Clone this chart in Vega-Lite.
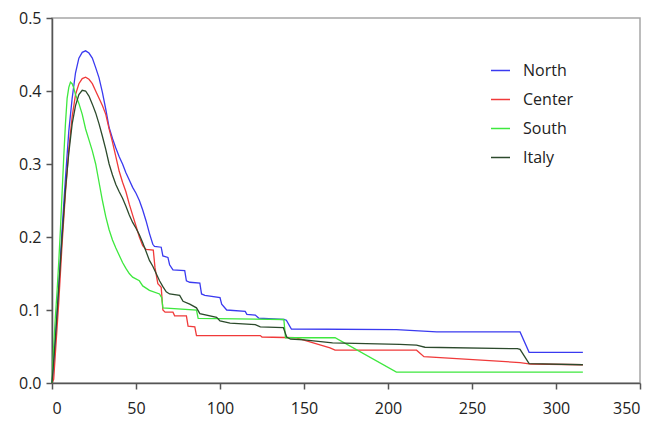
{
  "$schema": "https://vega.github.io/schema/vega-lite/v6.json",
  "width": 588,
  "height": 365,
  "autosize": "none",
  "padding": {"left": 52, "top": 18, "right": 29, "bottom": 38},
  "background": "white",
  "config": {
    "view": {"stroke": "#a6a6a6", "strokeWidth": 1.5},
    "font": "Open Sans",
    "axis": {
      "grid": false,
      "domainColor": "#555555",
      "domainWidth": 1.5,
      "tickColor": "#555555",
      "tickWidth": 1.5,
      "tickSize": 6,
      "labelFont": "Open Sans",
      "labelFontSize": 16,
      "labelColor": "#222222",
      "title": null
    },
    "legend": {
      "labelFont": "Open Sans",
      "labelFontSize": 16,
      "labelColor": "#222222"
    }
  },
  "data": {
    "values": [
      {"r":"North","d":0,"v":0},{"r":"North","d":1,"v":0.025},{"r":"North","d":2,"v":0.06},{"r":"North","d":4,"v":0.13},{"r":"North","d":6,"v":0.21},{"r":"North","d":8,"v":0.28},{"r":"North","d":10,"v":0.345},{"r":"North","d":12,"v":0.39},{"r":"North","d":14,"v":0.425},{"r":"North","d":16,"v":0.445},{"r":"North","d":18,"v":0.453},{"r":"North","d":20,"v":0.455},{"r":"North","d":22,"v":0.452},{"r":"North","d":24,"v":0.445},{"r":"North","d":26,"v":0.432},{"r":"North","d":28,"v":0.418},{"r":"North","d":30,"v":0.398},{"r":"North","d":32,"v":0.375},{"r":"North","d":34,"v":0.35},{"r":"North","d":36,"v":0.335},{"r":"North","d":38,"v":0.322},{"r":"North","d":40,"v":0.31},{"r":"North","d":42,"v":0.3},{"r":"North","d":44,"v":0.288},{"r":"North","d":46,"v":0.278},{"r":"North","d":48,"v":0.268},{"r":"North","d":50,"v":0.26},{"r":"North","d":52,"v":0.25},{"r":"North","d":54,"v":0.237},{"r":"North","d":56,"v":0.222},{"r":"North","d":58,"v":0.205},{"r":"North","d":60,"v":0.19},{"r":"North","d":61,"v":0.187},{"r":"North","d":65,"v":0.186},{"r":"North","d":66,"v":0.174},{"r":"North","d":69,"v":0.172},{"r":"North","d":70,"v":0.162},{"r":"North","d":72,"v":0.155},{"r":"North","d":79,"v":0.154},{"r":"North","d":80,"v":0.14},{"r":"North","d":82,"v":0.138},{"r":"North","d":88,"v":0.137},{"r":"North","d":89,"v":0.122},{"r":"North","d":91,"v":0.12},{"r":"North","d":100,"v":0.117},{"r":"North","d":101,"v":0.108},{"r":"North","d":104,"v":0.1},{"r":"North","d":115,"v":0.098},{"r":"North","d":116,"v":0.094},{"r":"North","d":121,"v":0.093},{"r":"North","d":123,"v":0.089},{"r":"North","d":138,"v":0.087},{"r":"North","d":139.5,"v":0.086},{"r":"North","d":142.5,"v":0.074},{"r":"North","d":205,"v":0.073},{"r":"North","d":229,"v":0.07},{"r":"North","d":278.6,"v":0.07},{"r":"North","d":284,"v":0.042},{"r":"North","d":316,"v":0.042},

      {"r":"Center","d":0,"v":0},{"r":"Center","d":1,"v":0.005},{"r":"Center","d":2,"v":0.04},{"r":"Center","d":4,"v":0.11},{"r":"Center","d":6,"v":0.19},{"r":"Center","d":8,"v":0.26},{"r":"Center","d":10,"v":0.32},{"r":"Center","d":12,"v":0.365},{"r":"Center","d":14,"v":0.395},{"r":"Center","d":16,"v":0.41},{"r":"Center","d":18,"v":0.417},{"r":"Center","d":20,"v":0.419},{"r":"Center","d":22,"v":0.416},{"r":"Center","d":24,"v":0.41},{"r":"Center","d":26,"v":0.4},{"r":"Center","d":28,"v":0.39},{"r":"Center","d":30,"v":0.38},{"r":"Center","d":32,"v":0.368},{"r":"Center","d":34,"v":0.348},{"r":"Center","d":36,"v":0.33},{"r":"Center","d":38,"v":0.31},{"r":"Center","d":40,"v":0.29},{"r":"Center","d":42,"v":0.275},{"r":"Center","d":44,"v":0.262},{"r":"Center","d":46,"v":0.245},{"r":"Center","d":48,"v":0.23},{"r":"Center","d":50,"v":0.215},{"r":"Center","d":52,"v":0.2},{"r":"Center","d":54,"v":0.188},{"r":"Center","d":56,"v":0.183},{"r":"Center","d":60.3,"v":0.182},{"r":"Center","d":61.3,"v":0.158},{"r":"Center","d":63,"v":0.136},{"r":"Center","d":65,"v":0.131},{"r":"Center","d":66,"v":0.1},{"r":"Center","d":67.3,"v":0.097},{"r":"Center","d":72,"v":0.097},{"r":"Center","d":73,"v":0.092},{"r":"Center","d":80,"v":0.092},{"r":"Center","d":81,"v":0.078},{"r":"Center","d":85,"v":0.077},{"r":"Center","d":86,"v":0.065},{"r":"Center","d":124,"v":0.065},{"r":"Center","d":125,"v":0.063},{"r":"Center","d":145,"v":0.062},{"r":"Center","d":165.5,"v":0.048},{"r":"Center","d":168.5,"v":0.045},{"r":"Center","d":217,"v":0.045},{"r":"Center","d":221.4,"v":0.036},{"r":"Center","d":278.6,"v":0.028},{"r":"Center","d":285,"v":0.026},{"r":"Center","d":316,"v":0.025},

      {"r":"South","d":0,"v":0},{"r":"South","d":1,"v":0.05},{"r":"South","d":2,"v":0.09},{"r":"South","d":3,"v":0.125},{"r":"South","d":4,"v":0.165},{"r":"South","d":5,"v":0.21},{"r":"South","d":6,"v":0.26},{"r":"South","d":7,"v":0.31},{"r":"South","d":8,"v":0.355},{"r":"South","d":9,"v":0.39},{"r":"South","d":10,"v":0.405},{"r":"South","d":11,"v":0.412},{"r":"South","d":12,"v":0.41},{"r":"South","d":13,"v":0.404},{"r":"South","d":14,"v":0.395},{"r":"South","d":16,"v":0.383},{"r":"South","d":18,"v":0.368},{"r":"South","d":20,"v":0.348},{"r":"South","d":22,"v":0.333},{"r":"South","d":24,"v":0.318},{"r":"South","d":26,"v":0.3},{"r":"South","d":28,"v":0.275},{"r":"South","d":30,"v":0.25},{"r":"South","d":32,"v":0.228},{"r":"South","d":34,"v":0.21},{"r":"South","d":36,"v":0.196},{"r":"South","d":38,"v":0.185},{"r":"South","d":40,"v":0.175},{"r":"South","d":42,"v":0.165},{"r":"South","d":44,"v":0.157},{"r":"South","d":46,"v":0.15},{"r":"South","d":48,"v":0.145},{"r":"South","d":52,"v":0.14},{"r":"South","d":54,"v":0.133},{"r":"South","d":58,"v":0.127},{"r":"South","d":64,"v":0.122},{"r":"South","d":65.3,"v":0.117},{"r":"South","d":66,"v":0.103},{"r":"South","d":86,"v":0.1},{"r":"South","d":87,"v":0.0885},{"r":"South","d":138,"v":0.087},{"r":"South","d":139,"v":0.062},{"r":"South","d":168.5,"v":0.062},{"r":"South","d":205,"v":0.015},{"r":"South","d":316,"v":0.015},

      {"r":"Italy","d":0,"v":0},{"r":"Italy","d":1,"v":0.03},{"r":"Italy","d":2,"v":0.06},{"r":"Italy","d":4,"v":0.13},{"r":"Italy","d":6,"v":0.2},{"r":"Italy","d":8,"v":0.265},{"r":"Italy","d":10,"v":0.315},{"r":"Italy","d":12,"v":0.355},{"r":"Italy","d":14,"v":0.38},{"r":"Italy","d":16,"v":0.395},{"r":"Italy","d":18,"v":0.401},{"r":"Italy","d":20,"v":0.4},{"r":"Italy","d":22,"v":0.393},{"r":"Italy","d":24,"v":0.382},{"r":"Italy","d":26,"v":0.37},{"r":"Italy","d":28,"v":0.355},{"r":"Italy","d":30,"v":0.338},{"r":"Italy","d":32,"v":0.32},{"r":"Italy","d":34,"v":0.3},{"r":"Italy","d":36,"v":0.285},{"r":"Italy","d":38,"v":0.272},{"r":"Italy","d":40,"v":0.262},{"r":"Italy","d":42,"v":0.253},{"r":"Italy","d":44,"v":0.242},{"r":"Italy","d":46,"v":0.23},{"r":"Italy","d":48,"v":0.22},{"r":"Italy","d":50,"v":0.212},{"r":"Italy","d":52,"v":0.203},{"r":"Italy","d":54,"v":0.192},{"r":"Italy","d":56,"v":0.18},{"r":"Italy","d":58,"v":0.168},{"r":"Italy","d":60,"v":0.16},{"r":"Italy","d":62,"v":0.15},{"r":"Italy","d":64,"v":0.14},{"r":"Italy","d":66,"v":0.132},{"r":"Italy","d":68,"v":0.125},{"r":"Italy","d":70,"v":0.122},{"r":"Italy","d":76,"v":0.12},{"r":"Italy","d":78,"v":0.112},{"r":"Italy","d":82,"v":0.108},{"r":"Italy","d":86,"v":0.103},{"r":"Italy","d":88,"v":0.095},{"r":"Italy","d":98,"v":0.09},{"r":"Italy","d":100,"v":0.085},{"r":"Italy","d":106,"v":0.082},{"r":"Italy","d":121,"v":0.08},{"r":"Italy","d":124,"v":0.077},{"r":"Italy","d":137.7,"v":0.076},{"r":"Italy","d":139.7,"v":0.063},{"r":"Italy","d":142,"v":0.06},{"r":"Italy","d":150,"v":0.059},{"r":"Italy","d":167,"v":0.055},{"r":"Italy","d":207,"v":0.053},{"r":"Italy","d":217,"v":0.052},{"r":"Italy","d":222,"v":0.049},{"r":"Italy","d":277,"v":0.047},{"r":"Italy","d":278.6,"v":0.046},{"r":"Italy","d":284,"v":0.0265},{"r":"Italy","d":316,"v":0.025}
    ]
  },
  "mark": {"type": "line", "strokeWidth": 1.3, "interpolate": "linear"},
  "encoding": {
    "x": {
      "field": "d",
      "type": "quantitative",
      "scale": {"domain": [0, 350], "nice": false, "zero": true},
      "axis": {"values": [0, 50, 100, 150, 200, 250, 300, 350], "labelPadding": 11, "format": "d"}
    },
    "y": {
      "field": "v",
      "type": "quantitative",
      "scale": {"domain": [0, 0.5], "nice": false},
      "axis": {"values": [0, 0.1, 0.2, 0.3, 0.4, 0.5], "format": ".1f", "labelPadding": 5}
    },
    "color": {
      "field": "r",
      "type": "nominal",
      "scale": {
        "domain": ["North", "Center", "South", "Italy"],
        "range": ["#3a3af0", "#f03a3a", "#3ee83e", "#2c4a2c"]
      },
      "legend": {
        "title": null,
        "orient": "none",
        "legendX": 438,
        "legendY": 42,
        "symbolType": "stroke",
        "symbolSize": 361,
        "symbolStrokeWidth": 1.5,
        "labelOffset": 12,
        "rowPadding": 10
      }
    },
    "order": {"field": "d", "type": "quantitative"}
  }
}
